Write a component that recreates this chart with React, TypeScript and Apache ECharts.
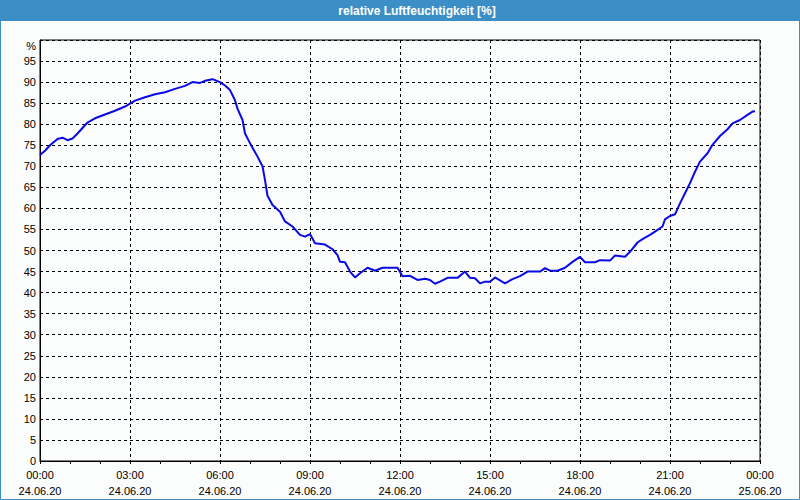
import React, { useEffect, useRef } from "react";
import * as echarts from "echarts";

// minutes since 24.06.20 00:00
const minutes = [
  0, 10, 20, 35, 45, 55, 65, 75, 95, 110, 130, 150, 170, 190, 210, 230, 250, 270, 290, 305,
  320, 330, 345, 360, 370, 380, 390, 395, 405, 410, 420, 435, 445, 450, 455, 465, 480, 490,
  505, 520, 530, 540, 550, 570, 585, 595, 600, 610, 620, 630, 640, 655, 670, 685, 715, 725,
  740, 755, 770, 780, 790, 800, 815, 835, 850, 860, 870, 880, 890, 900, 910, 930, 945, 960,
  975, 1000, 1010, 1020, 1035, 1050, 1065, 1080, 1090, 1110, 1120, 1140, 1150, 1170, 1180,
  1195, 1205, 1220, 1230, 1245, 1250, 1260, 1270, 1280, 1290, 1300, 1310, 1320, 1335, 1345,
  1360, 1375, 1385, 1400, 1415, 1425, 1430,
];
const humidity = [
  72.7, 73.7, 75.0, 76.5, 76.8, 76.2, 76.6, 77.8, 80.4, 81.4, 82.3, 83.2, 84.2, 85.6, 86.4,
  87.1, 87.6, 88.4, 89.1, 90.0, 89.8, 90.3, 90.7, 90.0, 89.2, 88.1, 85.7, 83.7, 81.0, 77.8,
  75.5, 72.3, 70.0, 66.7, 63.0, 60.8, 59.2, 56.9, 55.7, 53.7, 53.3, 53.9, 51.7, 51.4, 50.3,
  48.9, 47.3, 47.2, 45.0, 43.6, 44.6, 45.9, 45.2, 45.9, 45.9, 43.9, 44.0, 43.0, 43.3, 43.0,
  42.1, 42.6, 43.5, 43.5, 45.0, 43.5, 43.4, 42.2, 42.6, 42.6, 43.6, 42.2, 43.2, 43.9, 45.0,
  45.0, 45.8, 45.2, 45.2, 45.9, 47.3, 48.5, 47.2, 47.2, 47.7, 47.6, 48.8, 48.5, 49.7, 51.9,
  52.7, 53.7, 54.5, 55.7, 57.4, 58.2, 58.6, 61.2, 63.6, 66.0, 68.7, 71.1, 73.1, 75.1, 77.2,
  78.8, 80.2, 81.0, 82.2, 83.0, 83.1,
];
const title = "relative Luftfeuchtigkeit [%]";
const unitLabel = "%";
const tickTimes = ["00:00", "03:00", "06:00", "09:00", "12:00", "15:00", "18:00", "21:00", "00:00"];
const tickDates = ["24.06.20", "24.06.20", "24.06.20", "24.06.20", "24.06.20", "24.06.20", "24.06.20", "24.06.20", "25.06.20"];

const FONT = "Liberation Sans";

export default function App() {
  const ref = useRef<HTMLDivElement>(null);
  useEffect(() => {
    document.body.style.margin = "0";
    if (!ref.current) return;
    const chart = echarts.init(ref.current, null, { renderer: "svg" });
    chart.setOption({
      animation: false,
      backgroundColor: "#fbfcfc",
      grid: { left: 40, top: 40, width: 720, height: 421, show: true, borderColor: "#000", borderWidth: 1 },
      graphic: [
        { type: "rect", shape: { x: 0, y: 0, width: 800, height: 21 }, style: { fill: "#3c8fc6" } },
        {
          type: "rect",
          shape: { x: 0.5, y: 0.5, width: 799, height: 499 },
          style: { fill: null, stroke: "#3c8fc6", lineWidth: 1 },
        },
        {
          type: "text",
          x: 417,
          y: 11,
          style: {
            text: title,
            fill: "#ffffff",
            font: `bold 12px "${FONT}"`,
            textAlign: "center",
            textVerticalAlign: "middle",
          },
        },
        {
          type: "text",
          x: 36,
          y: 46,
          style: {
            text: unitLabel,
            fill: "#000",
            font: `11px "${FONT}"`,
            textAlign: "right",
            textVerticalAlign: "middle",
          },
        },
      ],
      xAxis: {
        type: "value",
        min: 0,
        max: 1440,
        interval: 180,
        axisLine: { show: true, lineStyle: { color: "#000", width: 1 } },
        axisTick: { show: true, length: 3, lineStyle: { color: "#000" } },
        minorTick: { show: true, splitNumber: 3, length: 3, lineStyle: { color: "#000" } },
        splitLine: { show: true, lineStyle: { color: "#000", type: [3, 3], width: 1 } },
        axisLabel: {
          margin: 6,
          color: "#000",
          fontFamily: FONT,
          fontSize: 11,
          lineHeight: 16,
          showMinLabel: true,
          showMaxLabel: true,
          formatter: (v: number) => {
            const i = Math.round(v / 180);
            return `${tickTimes[i]}\n${tickDates[i]}`;
          },
        },
      },
      yAxis: {
        type: "value",
        min: 0,
        max: 100,
        interval: 5,
        axisLine: { show: true, lineStyle: { color: "#000", width: 1 } },
        axisTick: { show: false },
        splitLine: { show: true, lineStyle: { color: "#000", type: [3, 3], width: 1 } },
        axisLabel: {
          margin: 4,
          color: "#000",
          fontFamily: FONT,
          fontSize: 11,
          formatter: (v: number) => (v === 100 ? "" : String(v)),
        },
      },
      series: [
        {
          type: "line",
          data: minutes.map((m, i) => [m, humidity[i]]),
          showSymbol: false,
          symbol: "none",
          lineStyle: { color: "#0a0ae6", width: 2 },
        },
      ],
    });
    return () => chart.dispose();
  }, []);
  return <div ref={ref} style={{ width: 800, height: 500 }} />;
}
